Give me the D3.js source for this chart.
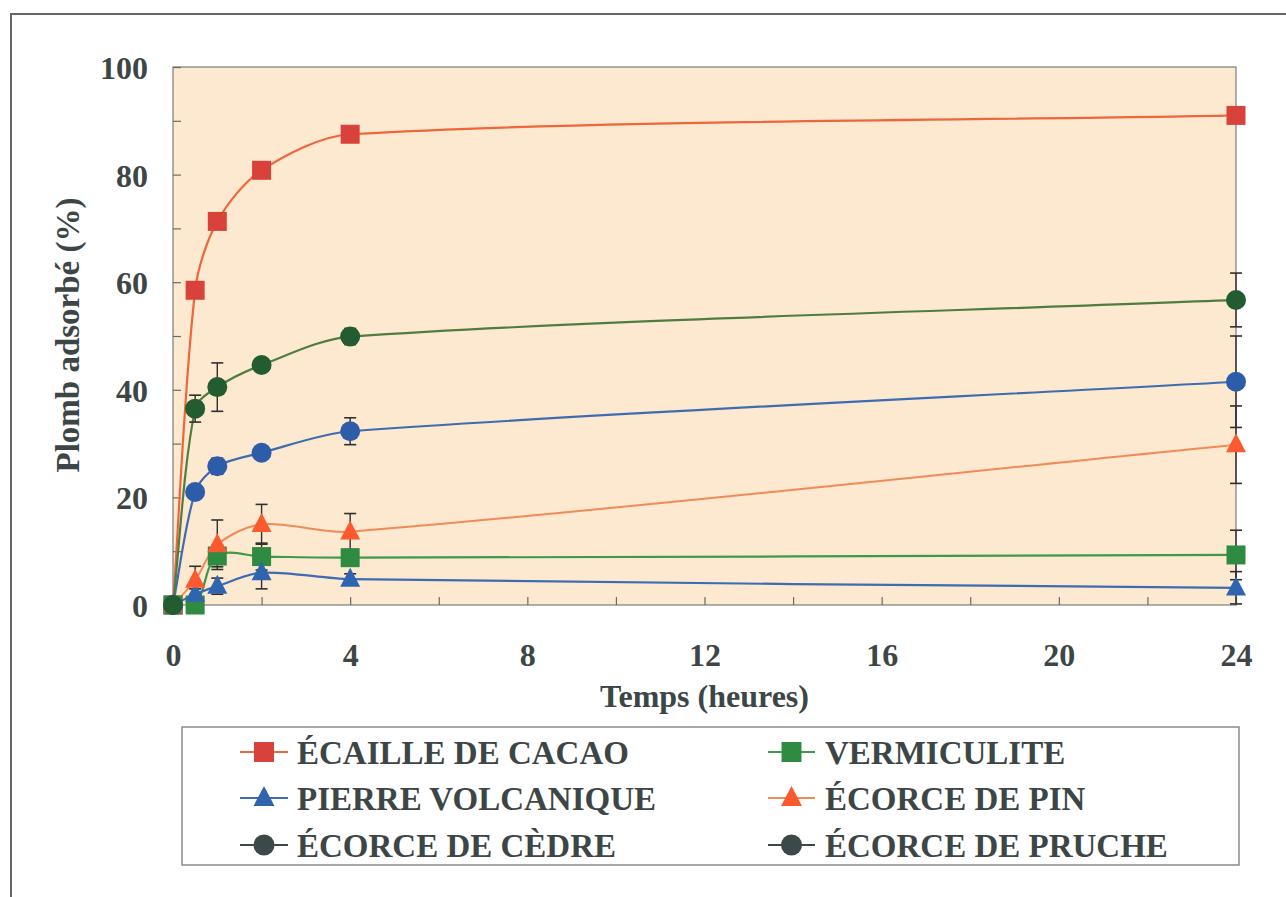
<!DOCTYPE html>
<html>
<head>
<meta charset="utf-8">
<script src="https://cdn.jsdelivr.net/npm/d3@7"></script>
<style>
  html, body { margin: 0; padding: 0; background: #ffffff; }
  svg { display: block; }
  text { font-family: "Liberation Serif", "Times New Roman", serif; font-weight: bold; fill: #3d4646; }
</style>
</head>
<body>
<svg id="chart" width="1286" height="897"></svg>
<script>
// Sampling times (hours)
const times = [0, 0.5, 1, 2, 4, 24];

// Lead adsorbed (%) for each material
const cacao       = [0, 58.5, 71.3, 80.8, 87.5, 91.0];
const vermiculite = [0, 0.0, 9.1, 9.0, 8.8, 9.3];
const volcanique  = [0, 2.0, 3.5, 6.0, 4.8, 3.2];
const pin         = [0, 4.6, 11.2, 15.0, 13.6, 29.8];
const cedre       = [0, 21.0, 25.8, 28.3, 32.3, 41.5];
const pruche      = [0, 36.5, 40.5, 44.6, 49.9, 56.7];

// Standard deviations
const cacaoErr       = [0, 1.0, 1.0, 1.0, 1.0, 1.0];
const vermiculiteErr = [0, 0.5, 2.0, 2.5, 1.5, 4.6];
const volcaniqueErr  = [0, 1.0, 1.5, 3.0, 1.0, 3.0];
const pinErr         = [0, 2.6, 4.6, 3.7, 3.4, 7.2];
const cedreErr       = [0, 1.0, 1.5, 1.0, 2.5, 8.5];
const pruche_err     = [0, 2.5, 4.5, 1.0, 1.5, 5.0];

const xTickLabels = [0, 4, 8, 12, 16, 20, 24];
const yTickLabels = [0, 20, 40, 60, 80, 100];

const series = [
  { name: "ÉCAILLE DE CACAO",  values: cacao,       err: cacaoErr,       shape: "square",   fill: "#d9423a", line: "#f0663c", lw: 2.2, legendFill: "#d9423a", col: 0, row: 0 },
  { name: "VERMICULITE",       values: vermiculite, err: vermiculiteErr, shape: "square",   fill: "#2f8a42", line: "#3d9a4a", lw: 2.2, legendFill: "#2f8a42", col: 1, row: 0 },
  { name: "PIERRE VOLCANIQUE", values: volcanique,  err: volcaniqueErr,  shape: "triangle", fill: "#2f64ae", line: "#3d6cb4", lw: 2.2, legendFill: "#2f64ae", col: 0, row: 1 },
  { name: "ÉCORCE DE PIN",     values: pin,         err: pinErr,         shape: "triangle", fill: "#fb5a30", line: "#f28a58", lw: 2.0, legendFill: "#fb5a30", col: 1, row: 1 },
  { name: "ÉCORCE DE CÈDRE",   values: cedre,       err: cedreErr,       shape: "circle",   fill: "#2d5ca8", line: "#3f6cb0", lw: 2.2, legendFill: "#3d4848", col: 0, row: 2 },
  { name: "ÉCORCE DE PRUCHE",  values: pruche,      err: pruche_err,     shape: "circle",   fill: "#225c30", line: "#4f7d3f", lw: 2.2, legendFill: "#3d4848", col: 1, row: 2 }
];

// Smooth curve: tangent direction from neighbours, control arm scaled
// by the length of each segment (keeps long segments from overshooting).
function SmoothCurve(context) { this._context = context; }
SmoothCurve.prototype = {
  areaStart() {}, areaEnd() {},
  lineStart() { this._pts = []; },
  point(x, y) { this._pts.push([+x, +y]); },
  lineEnd() {
    const p = this._pts, n = p.length, ctx = this._context, k = 0.3;
    if (!n) return;
    const unit = (a, b) => {
      const dx = b[0] - a[0], dy = b[1] - a[1], l = Math.hypot(dx, dy) || 1;
      return [dx / l, dy / l];
    };
    const tan = p.map((pt, i) => unit(p[Math.max(0, i - 1)], p[Math.min(n - 1, i + 1)]));
    ctx.moveTo(p[0][0], p[0][1]);
    for (let i = 0; i < n - 1; i++) {
      const a = p[i], b = p[i + 1];
      const L = Math.hypot(b[0] - a[0], b[1] - a[1]) * k;
      ctx.bezierCurveTo(a[0] + tan[i][0] * L, a[1] + tan[i][1] * L,
                        b[0] - tan[i + 1][0] * L, b[1] - tan[i + 1][1] * L,
                        b[0], b[1]);
    }
  }
};
const curveSmooth = ctx => new SmoothCurve(ctx);

const svg = d3.select("#chart");

// Outer frame
svg.append("rect")
  .attr("x", 11).attr("y", 14)
  .attr("width", 1300).attr("height", 900)
  .attr("fill", "none").attr("stroke", "#666").attr("stroke-width", 2);

const x = d3.scaleLinear().domain([0, 24]).range([173, 1236]);
const y = d3.scaleLinear().domain([0, 100]).range([605, 67]);

// Plot area
svg.append("rect")
  .attr("x", x(0)).attr("y", y(100))
  .attr("width", x(24) - x(0)).attr("height", y(0) - y(100))
  .attr("fill", "#fde9d0").attr("stroke", "#7d7d7d").attr("stroke-width", 1.2);

svg.append("clipPath").attr("id", "plotClip")
  .append("rect")
  .attr("x", x(0)).attr("y", y(100) - 2)
  .attr("width", x(24) - x(0) + 2).attr("height", y(0) - y(100) + 2);

// Inner tick marks
const xTicks = svg.append("g").attr("transform", `translate(0,${y(0)})`)
  .call(d3.axisBottom(x).tickValues(d3.range(0, 25, 2)).tickSize(-8).tickFormat(""));
const yTicks = svg.append("g").attr("transform", `translate(${x(0)},0)`)
  .call(d3.axisLeft(y).tickValues(d3.range(0, 101, 10)).tickSize(-8).tickFormat(""));
[xTicks, yTicks].forEach(g => {
  g.select(".domain").remove();
  g.selectAll(".tick line").attr("stroke", "#6a6a6a").attr("stroke-width", 1.2);
});

// Tick labels
const xLab = svg.append("g").attr("transform", `translate(0,${y(0) + 61})`)
  .call(d3.axisBottom(x).tickValues(xTickLabels).tickSize(0).tickPadding(0));
xLab.select(".domain").remove();
xLab.selectAll("text").attr("font-size", 32).attr("dy", 0)
  .style("font-family", "'Liberation Serif', serif").style("font-weight", "bold").attr("fill", "#3d4646");

const yLab = svg.append("g").attr("transform", `translate(148,0)`)
  .call(d3.axisLeft(y).tickValues(yTickLabels).tickSize(0).tickPadding(0));
yLab.select(".domain").remove();
yLab.selectAll("text").attr("font-size", 32).attr("dy", "0.36em").attr("x", 0)
  .style("font-family", "'Liberation Serif', serif").style("font-weight", "bold").attr("fill", "#3d4646");

// Axis titles
svg.append("text")
  .attr("x", (x(0) + x(24)) / 2).attr("y", 707)
  .attr("text-anchor", "middle").attr("font-size", 32)
  .text("Temps (heures)");
svg.append("text")
  .attr("transform", "translate(79,335) rotate(-90)")
  .attr("text-anchor", "middle").attr("font-size", 33)
  .text("Plomb adsorbé (%)");

// Marker symbols
function marker(g, shape, cx, cy, fill, scale = 1) {
  if (shape === "square") {
    const s = 19 * scale;
    g.append("rect").attr("x", cx - s / 2).attr("y", cy - s / 2)
      .attr("width", s).attr("height", s).attr("fill", fill);
  } else if (shape === "circle") {
    g.append("circle").attr("cx", cx).attr("cy", cy).attr("r", 10 * scale).attr("fill", fill);
  } else {
    const w = 20 * scale, h = 19 * scale;
    g.append("path")
      .attr("d", `M${cx},${cy - h * 0.6}L${cx + w / 2},${cy + h * 0.4}L${cx - w / 2},${cy + h * 0.4}Z`)
      .attr("fill", fill);
  }
}

const plot = svg.append("g").attr("clip-path", "url(#plotClip)");
const lineGen = d3.line()
  .x(d => x(d[0])).y(d => y(d[1]))
  .curve(curveSmooth);

// Smoothed lines
series.forEach(s => {
  plot.append("path")
    .datum(times.map((t, i) => [t, s.values[i]]))
    .attr("d", lineGen)
    .attr("fill", "none").attr("stroke", s.line).attr("stroke-width", s.lw);
});

// Error bars
const errG = svg.append("g");
series.forEach(s => {
  times.forEach((t, i) => {
    const e = s.err[i];
    if (!e) return;
    const cx = x(t), y0 = y(s.values[i] - e), y1 = y(s.values[i] + e);
    errG.append("line").attr("x1", cx).attr("x2", cx).attr("y1", y0).attr("y2", y1)
      .attr("stroke", "#2f2f2f").attr("stroke-width", 1.4);
    [y0, y1].forEach(yy => errG.append("line")
      .attr("x1", cx - 6).attr("x2", cx + 6).attr("y1", yy).attr("y2", yy)
      .attr("stroke", "#2f2f2f").attr("stroke-width", 1.6));
  });
});

// Markers
const markG = svg.append("g");
series.forEach(s => {
  times.forEach((t, i) => marker(markG, s.shape, x(t), y(s.values[i]), s.fill));
});

// Legend
svg.append("rect")
  .attr("x", 182).attr("y", 727).attr("width", 1057).attr("height", 138)
  .attr("fill", "#ffffff").attr("stroke", "#8a8a8a").attr("stroke-width", 1.5);

const legendRows = [752, 798, 845];
const legendCols = [{ x0: 240, x1: 288, tx: 297 }, { x0: 768, x1: 815, tx: 825 }];
const legG = svg.append("g");
series.forEach(s => {
  const c = legendCols[s.col], ry = legendRows[s.row];
  legG.append("line").attr("x1", c.x0).attr("x2", c.x1).attr("y1", ry).attr("y2", ry)
    .attr("stroke", s.shape === "circle" ? "#3d4848" : s.line).attr("stroke-width", 2);
  marker(legG, s.shape, (c.x0 + c.x1) / 2, ry, s.legendFill, 1.05);
  legG.append("text").attr("x", c.tx).attr("y", ry + 11.5)
    .attr("font-size", 33).text(s.name);
});
</script>
</body>
</html>
